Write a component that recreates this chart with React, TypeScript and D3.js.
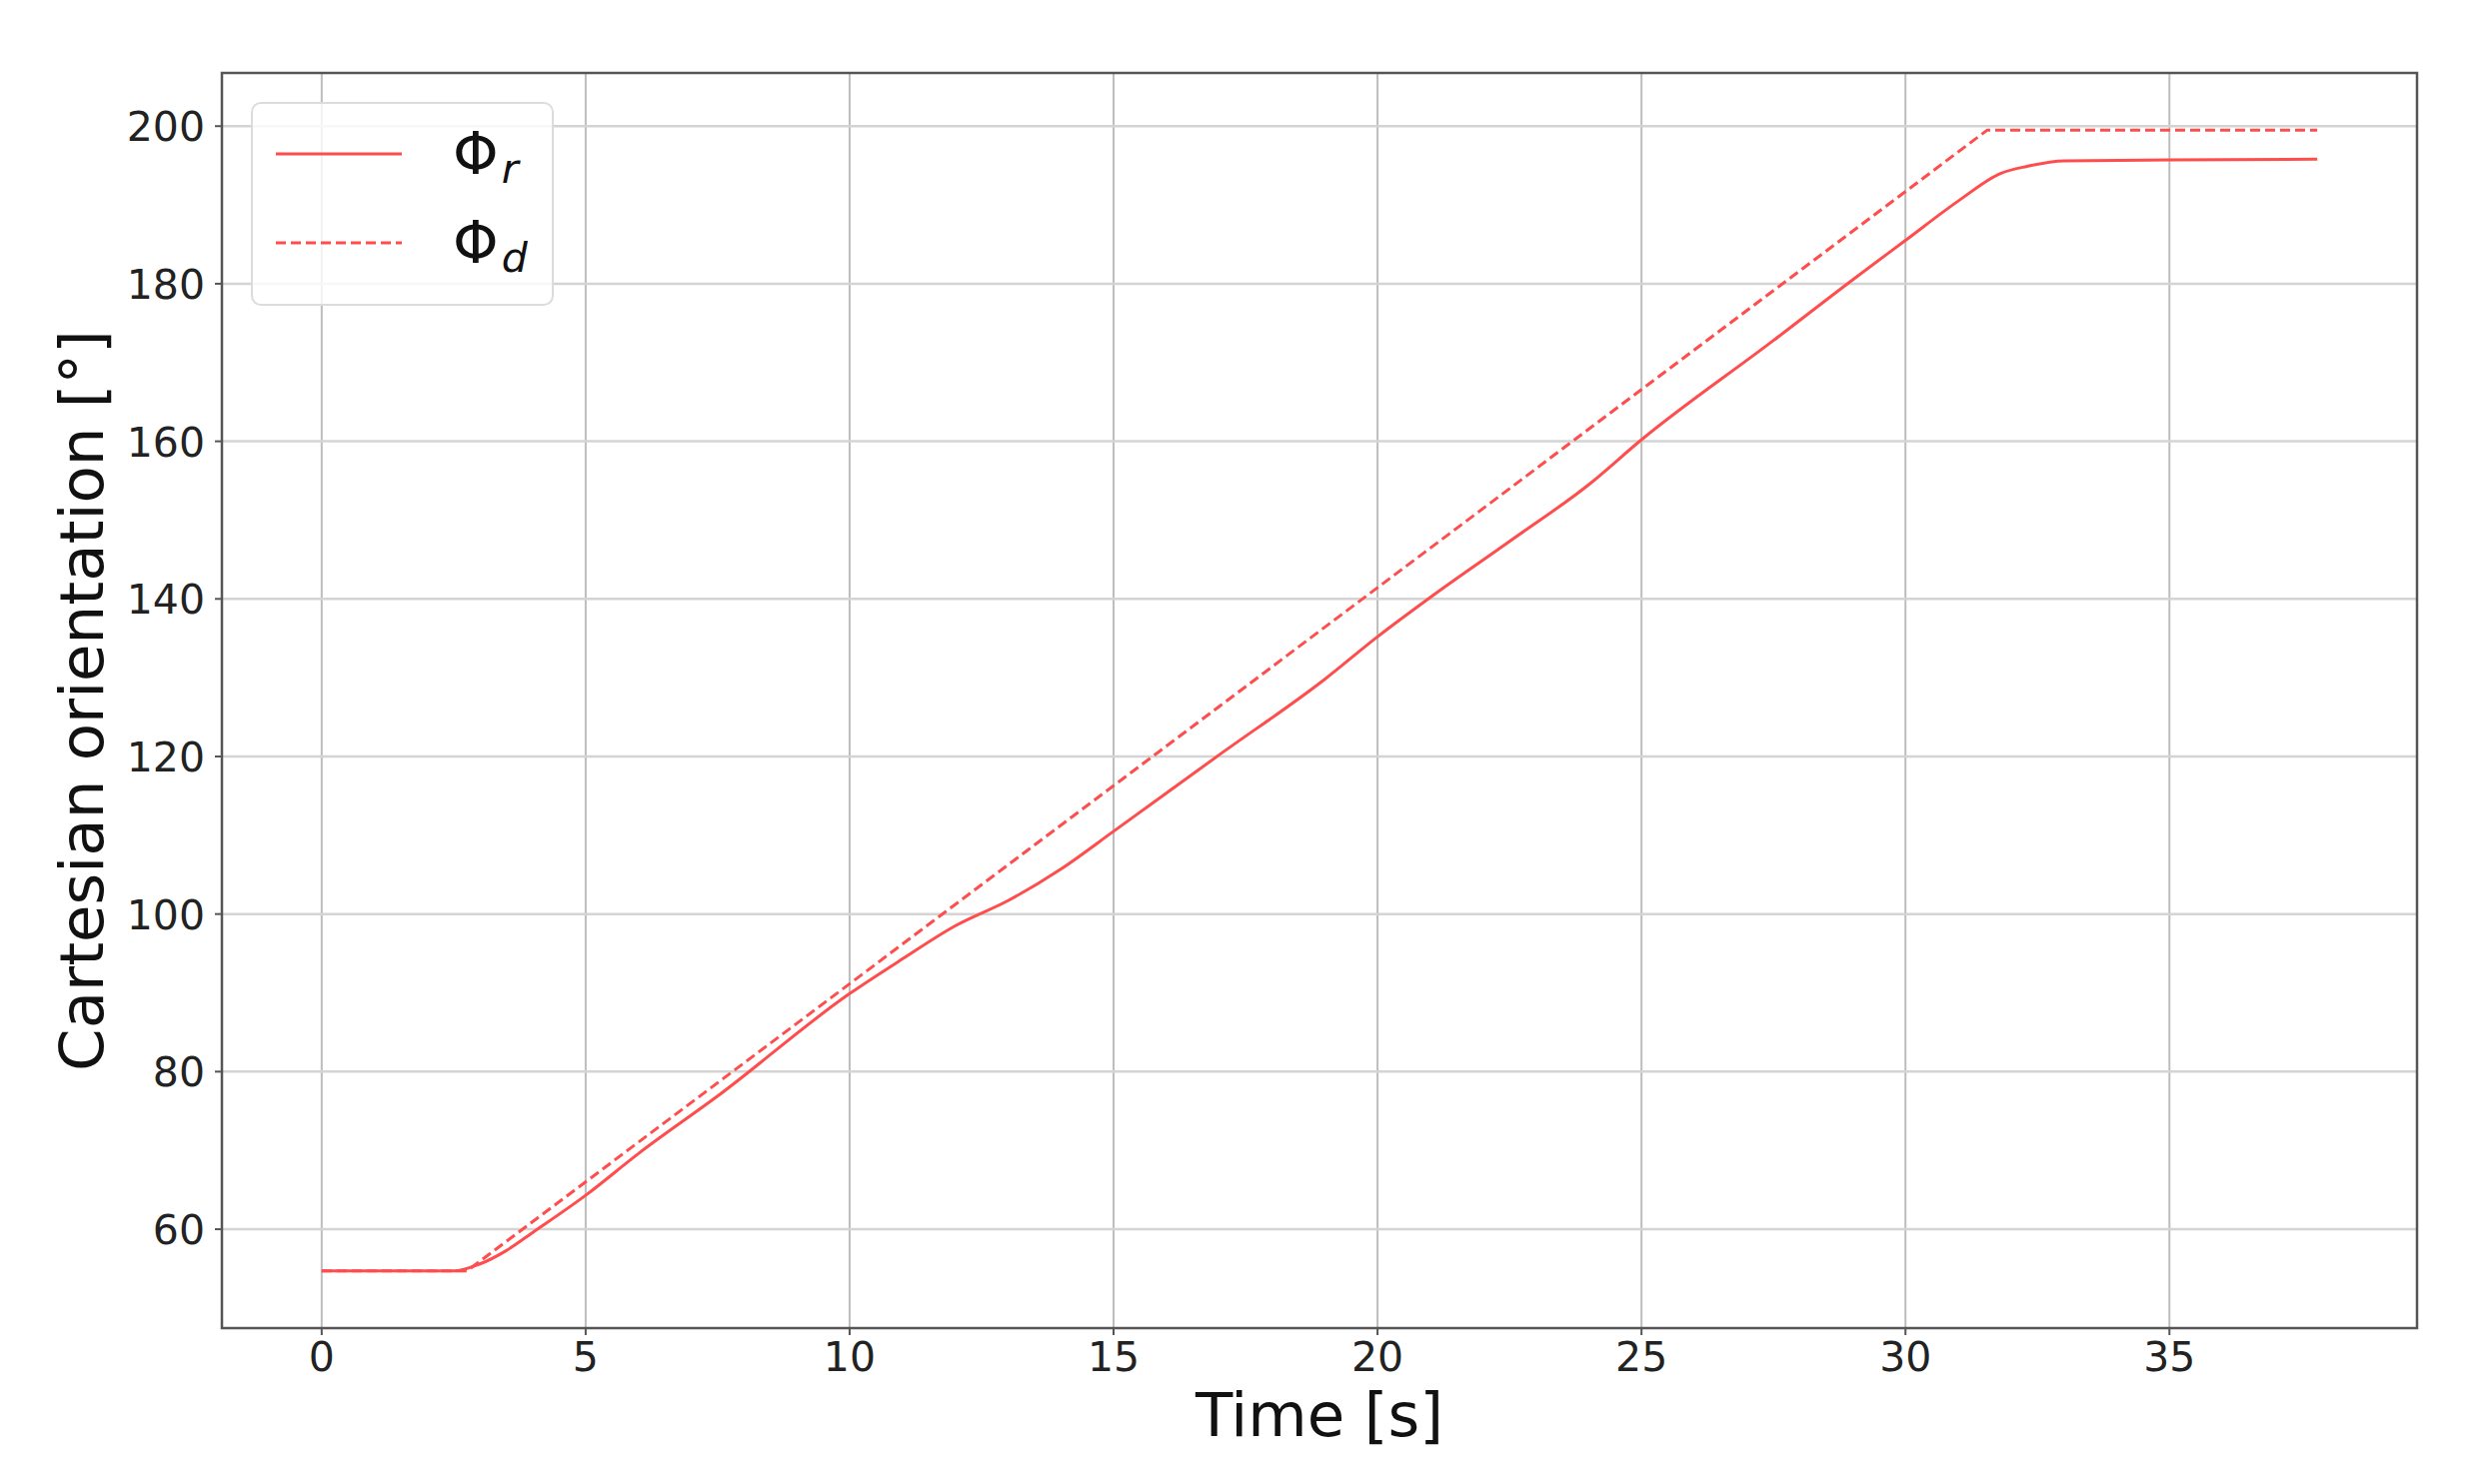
import React, { useEffect, useRef } from "react";
import * as d3 from "d3";

// measured orientation (solid) and desired orientation (dashed)
const timeR = [0, 2.5, 3.0, 3.5, 4.0, 5.0, 6.0, 7.5, 10, 11, 12, 13, 14, 15, 17, 19, 20, 21, 22.5, 24, 25, 27.5, 29, 30, 31, 31.8, 32.3, 33, 35, 37.8];
const phiR = [54.7, 54.7, 55.6, 57.3, 59.6, 64.3, 69.6, 76.9, 89.9, 94.3, 98.5, 101.7, 105.7, 110.5, 120.2, 129.8, 135.2, 140.2, 147.3, 154.5, 160.2, 172.8, 180.5, 185.5, 190.5, 194.0, 194.9, 195.6, 195.7, 195.8];

const timeD = [0, 2.75, 31.55, 37.8];
const phiD = [54.7, 54.7, 199.5, 199.5];

const xTicks = [0, 5, 10, 15, 20, 25, 30, 35];
const yTicks = [60, 80, 100, 120, 140, 160, 180, 200];

const legendItems = [
  { main: "Φ", sub: "r", dash: null },
  { main: "Φ", sub: "d", dash: "10,5" },
];

const App = () => {
  const svgRef = useRef(null);

  const width = 2486;
  const height = 1485;
  const marginTop = 73;
  const marginRight = 68;
  const marginBottom = 156;
  const marginLeft = 222;
  const lineColor = "#ff4d4d";
  const font = "'DejaVu Sans', sans-serif";

  useEffect(() => {
    const svg = d3.select(svgRef.current);
    svg.selectAll("*").remove();

    const x = d3
      .scaleLinear()
      .domain([-1.89, 39.69])
      .range([marginLeft, width - marginRight]);

    const y = d3
      .scaleLinear()
      .domain([47.45, 206.75])
      .range([height - marginBottom, marginTop]);

    // grid
    svg
      .append("g")
      .selectAll("line")
      .data(xTicks)
      .join("line")
      .attr("x1", (d) => x(d))
      .attr("x2", (d) => x(d))
      .attr("y1", marginTop)
      .attr("y2", height - marginBottom)
      .attr("stroke", "#bdbdbd")
      .attr("stroke-width", 2);

    svg
      .append("g")
      .selectAll("line")
      .data(yTicks)
      .join("line")
      .attr("x1", marginLeft)
      .attr("x2", width - marginRight)
      .attr("y1", (d) => y(d))
      .attr("y2", (d) => y(d))
      .attr("stroke", "#d4d4d4")
      .attr("stroke-width", 2.5);

    // series
    const solidLine = d3
      .line()
      .x((d) => x(d[0]))
      .y((d) => y(d[1]))
      .curve(d3.curveMonotoneX);

    const dashLine = d3
      .line()
      .x((d) => x(d[0]))
      .y((d) => y(d[1]));

    svg
      .append("path")
      .datum(timeD.map((t, i) => [t, phiD[i]]))
      .attr("fill", "none")
      .attr("stroke", lineColor)
      .attr("stroke-width", 3)
      .attr("stroke-dasharray", "10,5")
      .attr("d", dashLine);

    svg
      .append("path")
      .datum(timeR.map((t, i) => [t, phiR[i]]))
      .attr("fill", "none")
      .attr("stroke", lineColor)
      .attr("stroke-width", 3)
      .attr("stroke-linejoin", "round")
      .attr("d", solidLine);

    // frame
    svg
      .append("rect")
      .attr("x", marginLeft)
      .attr("y", marginTop)
      .attr("width", width - marginLeft - marginRight)
      .attr("height", height - marginTop - marginBottom)
      .attr("fill", "none")
      .attr("stroke", "#555")
      .attr("stroke-width", 2.5);

    // x ticks
    const xAxis = svg.append("g");
    xAxis
      .selectAll("line")
      .data(xTicks)
      .join("line")
      .attr("x1", (d) => x(d))
      .attr("x2", (d) => x(d))
      .attr("y1", height - marginBottom)
      .attr("y2", height - marginBottom + 7)
      .attr("stroke", "#555")
      .attr("stroke-width", 2);
    xAxis
      .selectAll("text")
      .data(xTicks)
      .join("text")
      .attr("x", (d) => x(d))
      .attr("y", 1372)
      .attr("text-anchor", "middle")
      .attr("fill", "#222")
      .style("font-family", font)
      .style("font-size", "41px")
      .text((d) => d);

    // y ticks
    const yAxis = svg.append("g");
    yAxis
      .selectAll("line")
      .data(yTicks)
      .join("line")
      .attr("x1", marginLeft - 7)
      .attr("x2", marginLeft)
      .attr("y1", (d) => y(d))
      .attr("y2", (d) => y(d))
      .attr("stroke", "#555")
      .attr("stroke-width", 2);
    yAxis
      .selectAll("text")
      .data(yTicks)
      .join("text")
      .attr("x", 205)
      .attr("y", (d) => y(d) + 15)
      .attr("text-anchor", "end")
      .attr("fill", "#222")
      .style("font-family", font)
      .style("font-size", "41px")
      .text((d) => d);

    // axis labels
    svg
      .append("text")
      .attr("x", (marginLeft + width - marginRight) / 2)
      .attr("y", 1437)
      .attr("text-anchor", "middle")
      .attr("fill", "#111")
      .style("font-family", font)
      .style("font-size", "61px")
      .text("Time [s]");

    svg
      .append("text")
      .attr("transform", `translate(103,${(marginTop + height - marginBottom) / 2}) rotate(-90)`)
      .attr("text-anchor", "middle")
      .attr("fill", "#111")
      .style("font-family", font)
      .style("font-size", "61px")
      .text("Cartesian orientation [°]");

    // legend
    const legend = svg.append("g");
    legend
      .append("rect")
      .attr("x", 252)
      .attr("y", 103)
      .attr("width", 301)
      .attr("height", 202)
      .attr("rx", 9)
      .attr("fill", "white")
      .attr("fill-opacity", 0.8)
      .attr("stroke", "#dcdcdc")
      .attr("stroke-width", 2);

    const rows = legend
      .selectAll("g.item")
      .data(legendItems)
      .join("g")
      .attr("class", "item")
      .attr("transform", (d, i) => `translate(0,${154 + i * 89})`);

    rows
      .append("line")
      .attr("x1", 276)
      .attr("x2", 402)
      .attr("stroke", lineColor)
      .attr("stroke-width", 3)
      .attr("stroke-dasharray", (d) => d.dash);

    const label = rows
      .append("text")
      .attr("x", 453)
      .attr("y", 20)
      .attr("fill", "#111")
      .style("font-family", font)
      .style("font-size", "58px");
    label.append("tspan").text((d) => d.main);
    label
      .append("tspan")
      .attr("dy", 9)
      .attr("dx", 3)
      .style("font-style", "italic")
      .style("font-size", "41px")
      .text((d) => d.sub);
  }, []);

  return (
    <div style={{ position: "absolute", left: 0, top: 0, background: "white" }}>
      <svg ref={svgRef} width={width} height={height} style={{ display: "block" }}></svg>
    </div>
  );
};

export default App;
